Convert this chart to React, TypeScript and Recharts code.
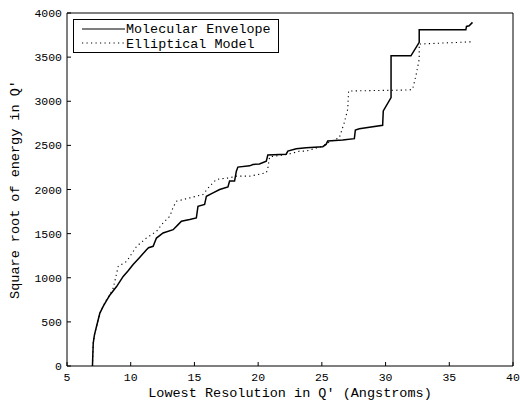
import { Legend, Line, LineChart, XAxis, YAxis } from "recharts"

// [resolution (Å), sqrt(energy)]
const envelopePoints: [number, number][] = [
  [7.0, 0], [7.02, 100], [7.06, 260], [7.15, 350], [7.32, 450], [7.58, 600],
  [7.84, 675], [8.1, 740], [8.37, 805], [8.89, 900], [9.41, 1015], [9.8, 1080],
  [10.19, 1150], [10.7, 1230], [11.24, 1318], [11.4, 1340], [11.76, 1356],
  [12.02, 1450], [12.54, 1508], [13.33, 1545], [13.72, 1602], [13.98, 1640],
  [14.63, 1659], [15.15, 1678], [15.28, 1810], [15.8, 1830], [15.94, 1924],
  [16.46, 1962], [16.98, 2000], [17.63, 2030], [17.76, 2095], [18.15, 2095],
  [18.29, 2208], [18.41, 2254], [19.33, 2268], [19.59, 2284], [20.1, 2290],
  [20.64, 2322], [20.76, 2392], [22.2, 2400], [22.33, 2435], [22.99, 2462],
  [23.77, 2473], [25.07, 2485], [25.33, 2511], [25.46, 2549], [26.63, 2562],
  [27.55, 2576], [27.63, 2674], [27.94, 2689], [29.77, 2727], [29.82, 2890],
  [30.43, 3042], [30.43, 3515], [31.99, 3515], [32.64, 3667], [32.64, 3810],
  [36.3, 3810], [36.35, 3848], [36.56, 3856], [36.82, 3894],
]

const ellipticalPoints: [number, number][] = [
  [7.0, 0], [7.02, 100], [7.06, 260], [7.15, 350], [7.32, 450], [7.58, 600],
  [7.84, 680], [8.1, 750], [8.37, 810], [8.63, 883], [9.02, 1129], [9.68, 1185],
  [10.46, 1356], [11.24, 1451], [12.02, 1526], [12.54, 1621], [13.07, 1697],
  [13.33, 1800], [13.59, 1867], [14.63, 1905], [15.67, 1943], [16.2, 2038],
  [16.72, 2114], [17.76, 2133], [18.29, 2151], [19.33, 2151], [20.37, 2182],
  [20.64, 2189], [20.76, 2240], [20.9, 2370], [21.68, 2386], [22.33, 2398],
  [23.25, 2435], [23.77, 2435], [25.07, 2492], [25.6, 2538], [26.37, 2587],
  [26.76, 2758], [27.03, 2909], [27.1, 3117], [27.42, 3117], [31.86, 3128],
  [32.12, 3136], [32.38, 3288], [32.64, 3477], [32.64, 3648], [36.82, 3674],
]

const xTicks = [5, 10, 15, 20, 25, 30, 35, 40]
const yTicks = [0, 500, 1000, 1500, 2000, 2500, 3000, 3500, 4000]

const seriesNames = ["Molecular Envelope", "Elliptical Model"]

const mono = "'Courier New', Courier, 'Liberation Mono', monospace"
const tickStyle = { fill: "#000", fontSize: 11.5, fontFamily: mono }
const axisLine = { stroke: "#000", strokeWidth: 1 }
const dots = "1.2 3.3"

const toRows = (pts: [number, number][]) => pts.map(([x, y]) => ({ x, y }))

function LegendBox() {
  return (
    <svg width={206} height={34} style={{ display: "block" }}>
      <rect x={0.5} y={0.5} width={205} height={33} fill="#fff" stroke="#000" />
      <line x1={9} x2={52} y1={10} y2={10} stroke="#000" strokeWidth={1.2} />
      <text x={53} y={14} fontFamily={mono} fontSize={13.4} fill="#000">
        {seriesNames[0]}
      </text>
      <line x1={9} x2={52} y1={24} y2={24} stroke="#000" strokeWidth={1} strokeDasharray={dots} />
      <text x={53} y={28.5} fontFamily={mono} fontSize={13.4} fill="#000">
        {seriesNames[1]}
      </text>
    </svg>
  )
}

export default function App() {
  return (
    <div
      style={{
        position: "absolute",
        left: 0,
        top: 0,
        width: 520,
        height: 400,
        overflow: "hidden",
        background: "#fff",
      }}
    >
      <LineChart width={520} height={400} margin={{ top: 0, right: 0, bottom: 0, left: 0 }}>
        <XAxis
          xAxisId={0}
          dataKey="x"
          type="number"
          domain={[5, 40]}
          ticks={xTicks}
          interval={0}
          height={34}
          tickSize={-4}
          tickMargin={11}
          tick={tickStyle}
          axisLine={axisLine}
          tickLine={axisLine}
          allowDataOverflow
          label={{
            value: "Lowest Resolution in Q\u2032 (Angstroms)",
            position: "insideBottom",
            offset: 3,
            style: { fill: "#000", fontSize: 13.5, fontFamily: mono },
          }}
        />
        <XAxis
          xAxisId="top"
          orientation="top"
          dataKey="x"
          type="number"
          domain={[5, 40]}
          ticks={xTicks}
          interval={0}
          height={13}
          tickSize={-4}
          tickFormatter={() => ""}
          axisLine={axisLine}
          tickLine={axisLine}
        />
        <YAxis
          yAxisId={0}
          type="number"
          domain={[0, 4000]}
          ticks={yTicks}
          interval={0}
          width={67}
          tickSize={-4}
          tickMargin={9}
          tick={tickStyle}
          axisLine={axisLine}
          tickLine={axisLine}
          allowDataOverflow
          label={{
            value: "Square root of energy in Q\u2032",
            angle: -90,
            position: "insideLeft",
            offset: 14,
            style: { textAnchor: "middle", fill: "#000", fontSize: 13.5, fontFamily: mono },
          }}
        />
        <YAxis
          yAxisId="right"
          orientation="right"
          type="number"
          domain={[0, 4000]}
          ticks={yTicks}
          interval={0}
          width={7}
          tickSize={-4}
          tickFormatter={() => ""}
          axisLine={axisLine}
          tickLine={axisLine}
        />
        <Legend
          layout="horizontal"
          verticalAlign="middle"
          align="center"
          wrapperStyle={{ left: 73, top: 19, width: 206, height: 34 }}
          content={() => <LegendBox />}
        />
        <Line
          data={toRows(envelopePoints)}
          dataKey="y"
          name={seriesNames[0]}
          type="linear"
          stroke="#000"
          strokeWidth={1.5}
          dot={false}
          isAnimationActive={false}
        />
        <Line
          data={toRows(ellipticalPoints)}
          dataKey="y"
          name={seriesNames[1]}
          type="linear"
          stroke="#000"
          strokeWidth={1.1}
          strokeDasharray={dots}
          dot={false}
          isAnimationActive={false}
        />
      </LineChart>
    </div>
  )
}
